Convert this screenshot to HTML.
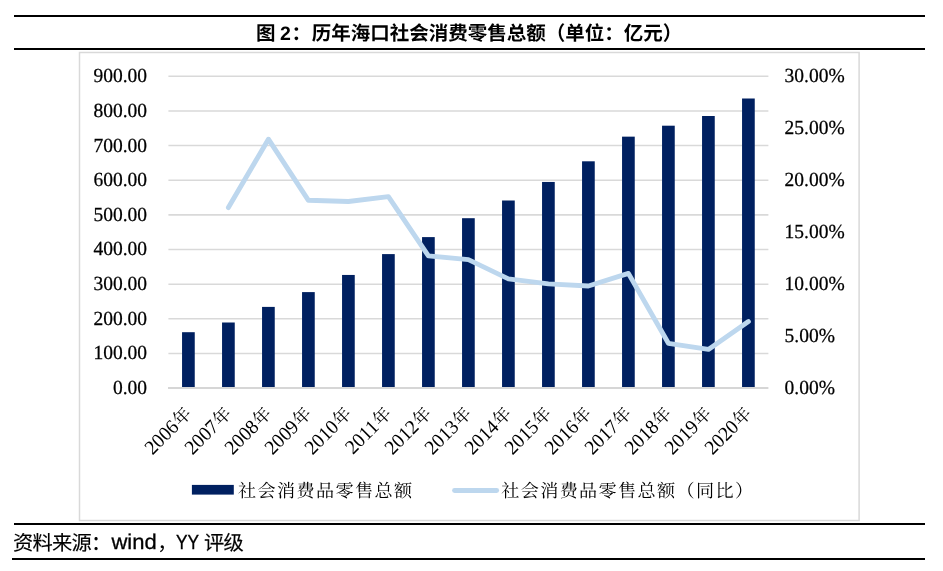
<!DOCTYPE html>
<html lang="zh-CN">
<head>
<meta charset="utf-8">
<title>图 2：历年海口社会消费零售总额（单位：亿元）</title>
<style>
html,body{margin:0;padding:0;background:#fff;}
body{width:943px;height:571px;overflow:hidden;font-family:"Liberation Sans",sans-serif;}
svg{display:block;position:absolute;left:0;top:0;will-change:transform;text-rendering:geometricPrecision;}
</style>
</head>
<body>
<svg width="943" height="571" viewBox="0 0 943 571" role="img" aria-label="图 2：历年海口社会消费零售总额（单位：亿元）">
<g id="rules" fill="#000">
<rect x="14" y="15" width="911" height="2"/>
<rect x="14" y="48" width="911" height="2"/>
<rect x="14" y="523" width="911" height="2"/>
<rect x="12" y="558" width="913" height="2"/>
</g>
<g id="title" font-family="'Liberation Sans', 'Noto Sans CJK SC', sans-serif" font-size="19.5px" font-weight="bold" fill="#000">
<text x="256" y="40.4">图</text>
<text x="279.93" y="40.4">2</text>
<text x="291.43" y="40.4">：</text>
<text x="311.83" y="40.4" textLength="370.5" lengthAdjust="spacing">历年海口社会消费零售总额（单位：亿元）</text>
</g>
<rect id="frame" x="79.5" y="52.5" width="779.6" height="468" fill="#fff" stroke="#D9D9D9" stroke-width="1.5"/>
<g id="grid" stroke="#D9D9D9" stroke-width="1.55">
<line x1="168.4" x2="768.4" y1="353.45" y2="353.45"/>
<line x1="168.4" x2="768.4" y1="318.80" y2="318.80"/>
<line x1="168.4" x2="768.4" y1="284.15" y2="284.15"/>
<line x1="168.4" x2="768.4" y1="249.50" y2="249.50"/>
<line x1="168.4" x2="768.4" y1="214.85" y2="214.85"/>
<line x1="168.4" x2="768.4" y1="180.20" y2="180.20"/>
<line x1="168.4" x2="768.4" y1="145.55" y2="145.55"/>
<line x1="168.4" x2="768.4" y1="110.90" y2="110.90"/>
<line x1="168.4" x2="768.4" y1="76.25" y2="76.25"/>
</g>
<g id="bars" fill="#002060">
<rect x="182.05" y="332.20" width="12.70" height="55.30"/>
<rect x="222.05" y="322.50" width="12.70" height="65.00"/>
<rect x="262.05" y="306.90" width="12.70" height="80.60"/>
<rect x="302.05" y="292.10" width="12.70" height="95.40"/>
<rect x="342.05" y="274.95" width="12.70" height="112.55"/>
<rect x="382.05" y="254.10" width="12.70" height="133.40"/>
<rect x="422.05" y="237.10" width="12.70" height="150.40"/>
<rect x="462.05" y="218.20" width="12.70" height="169.30"/>
<rect x="502.05" y="200.50" width="12.70" height="187.00"/>
<rect x="542.05" y="181.95" width="12.70" height="205.55"/>
<rect x="582.05" y="161.30" width="12.70" height="226.20"/>
<rect x="622.05" y="136.65" width="12.70" height="250.85"/>
<rect x="662.05" y="125.70" width="12.70" height="261.80"/>
<rect x="702.05" y="116.00" width="12.70" height="271.50"/>
<rect x="742.05" y="98.50" width="12.70" height="289.00"/>
</g>
<rect id="xaxis" x="168.0" y="387" width="600.4" height="2" fill="#D6D6D6"/>
<polyline id="yoy" points="228.4,207.6 268.4,139.2 308.4,200.3 348.4,201.5 388.4,196.6 428.4,255.9 468.4,259.6 508.4,278.9 548.4,283.9 588.4,286.0 628.4,273.4 668.4,343.3 708.4,349.4 748.4,321.6" fill="none" stroke="#BDD7EE" stroke-width="4.9" stroke-linecap="round" stroke-linejoin="round"/>
<g id="yaxis-left" font-family="'Liberation Serif', serif" font-size="19.5px" fill="#000" stroke="#000" stroke-width="0.25" text-anchor="end">
<text transform="translate(147 394.05) scale(1 1.025)">0.00</text>
<text transform="translate(147 359.40) scale(1 1.025)">100.00</text>
<text transform="translate(147 324.75) scale(1 1.025)">200.00</text>
<text transform="translate(147 290.10) scale(1 1.025)">300.00</text>
<text transform="translate(147 255.45) scale(1 1.025)">400.00</text>
<text transform="translate(147 220.80) scale(1 1.025)">500.00</text>
<text transform="translate(147 186.15) scale(1 1.025)">600.00</text>
<text transform="translate(147 151.50) scale(1 1.025)">700.00</text>
<text transform="translate(147 116.85) scale(1 1.025)">800.00</text>
<text transform="translate(147 82.20) scale(1 1.025)">900.00</text>
</g>
<g id="yaxis-right" font-family="'Liberation Serif', serif" font-size="19.5px" fill="#000" stroke="#000" stroke-width="0.25">
<text transform="translate(784.6 394.05) scale(1 1.025)">0.00%</text>
<text transform="translate(784.6 342.07) scale(1 1.025)">5.00%</text>
<text transform="translate(784.6 290.10) scale(1 1.025)">10.00%</text>
<text transform="translate(784.6 238.12) scale(1 1.025)">15.00%</text>
<text transform="translate(784.6 186.15) scale(1 1.025)">20.00%</text>
<text transform="translate(784.6 134.18) scale(1 1.025)">25.00%</text>
<text transform="translate(784.6 82.20) scale(1 1.025)">30.00%</text>
</g>
<g id="xlabels" font-family="'Liberation Serif', 'Noto Serif CJK SC', serif" font-size="19.5px" fill="#000" text-anchor="end">
<g transform="translate(193.75 414.20) rotate(-45)"><text transform="translate(-19.50 0) scale(1 1.025)">2006</text><text x="-18.82" y="-0.70" font-size="17.55px" text-anchor="start">年</text><title>2006年</title></g>
<g transform="translate(233.75 414.20) rotate(-45)"><text transform="translate(-19.50 0) scale(1 1.025)">2007</text><text x="-18.82" y="-0.70" font-size="17.55px" text-anchor="start">年</text><title>2007年</title></g>
<g transform="translate(273.75 414.20) rotate(-45)"><text transform="translate(-19.50 0) scale(1 1.025)">2008</text><text x="-18.82" y="-0.70" font-size="17.55px" text-anchor="start">年</text><title>2008年</title></g>
<g transform="translate(313.75 414.20) rotate(-45)"><text transform="translate(-19.50 0) scale(1 1.025)">2009</text><text x="-18.82" y="-0.70" font-size="17.55px" text-anchor="start">年</text><title>2009年</title></g>
<g transform="translate(353.75 414.20) rotate(-45)"><text transform="translate(-19.50 0) scale(1 1.025)">2010</text><text x="-18.82" y="-0.70" font-size="17.55px" text-anchor="start">年</text><title>2010年</title></g>
<g transform="translate(393.75 414.20) rotate(-45)"><text transform="translate(-19.50 0) scale(1 1.025)">2011</text><text x="-18.82" y="-0.70" font-size="17.55px" text-anchor="start">年</text><title>2011年</title></g>
<g transform="translate(433.75 414.20) rotate(-45)"><text transform="translate(-19.50 0) scale(1 1.025)">2012</text><text x="-18.82" y="-0.70" font-size="17.55px" text-anchor="start">年</text><title>2012年</title></g>
<g transform="translate(473.75 414.20) rotate(-45)"><text transform="translate(-19.50 0) scale(1 1.025)">2013</text><text x="-18.82" y="-0.70" font-size="17.55px" text-anchor="start">年</text><title>2013年</title></g>
<g transform="translate(513.75 414.20) rotate(-45)"><text transform="translate(-19.50 0) scale(1 1.025)">2014</text><text x="-18.82" y="-0.70" font-size="17.55px" text-anchor="start">年</text><title>2014年</title></g>
<g transform="translate(553.75 414.20) rotate(-45)"><text transform="translate(-19.50 0) scale(1 1.025)">2015</text><text x="-18.82" y="-0.70" font-size="17.55px" text-anchor="start">年</text><title>2015年</title></g>
<g transform="translate(593.75 414.20) rotate(-45)"><text transform="translate(-19.50 0) scale(1 1.025)">2016</text><text x="-18.82" y="-0.70" font-size="17.55px" text-anchor="start">年</text><title>2016年</title></g>
<g transform="translate(633.75 414.20) rotate(-45)"><text transform="translate(-19.50 0) scale(1 1.025)">2017</text><text x="-18.82" y="-0.70" font-size="17.55px" text-anchor="start">年</text><title>2017年</title></g>
<g transform="translate(673.75 414.20) rotate(-45)"><text transform="translate(-19.50 0) scale(1 1.025)">2018</text><text x="-18.82" y="-0.70" font-size="17.55px" text-anchor="start">年</text><title>2018年</title></g>
<g transform="translate(713.75 414.20) rotate(-45)"><text transform="translate(-19.50 0) scale(1 1.025)">2019</text><text x="-18.82" y="-0.70" font-size="17.55px" text-anchor="start">年</text><title>2019年</title></g>
<g transform="translate(753.75 414.20) rotate(-45)"><text transform="translate(-19.50 0) scale(1 1.025)">2020</text><text x="-18.82" y="-0.70" font-size="17.55px" text-anchor="start">年</text><title>2020年</title></g>
</g>
<g id="legend" font-family="'Liberation Serif', 'Noto Serif CJK SC', serif" font-size="18.14px" fill="#000">
<rect x="191.9" y="484.9" width="41.9" height="9.7" fill="#002060"/>
<text x="238.08" y="496.51" letter-spacing="1.36">社会消费品零售总额</text>
<line x1="454.55" x2="496.65" y1="490.5" y2="490.5" stroke="#BDD7EE" stroke-width="4.9" stroke-linecap="round"/>
<text x="501.18" y="496.51" letter-spacing="1.36">社会消费品零售总额（同比）</text>
</g>
<g id="source" font-family="'Liberation Sans', 'Noto Sans CJK SC', sans-serif" fill="#000">
<text x="13.11" y="549.90" font-size="20.28px" letter-spacing="-0.78" stroke="#000" stroke-width="0.16">资料来源：</text>
<text x="111.4" y="548.7" font-family="'Liberation Sans', sans-serif" font-size="21.3px" stroke="#000" stroke-width="0.3" textLength="45.3" lengthAdjust="spacingAndGlyphs">wind</text>
<text x="157.2" y="549.90" font-size="20.28px">，</text>
<text x="176.0" y="548.8" font-family="'Liberation Sans', sans-serif" font-size="20.5px" stroke="#000" stroke-width="0.3" textLength="23.1" lengthAdjust="spacingAndGlyphs">YY</text>
<text x="204.01" y="549.90" font-size="20.28px" letter-spacing="-0.78" stroke="#000" stroke-width="0.16">评级</text>
</g>
</svg>
</body>
</html>
